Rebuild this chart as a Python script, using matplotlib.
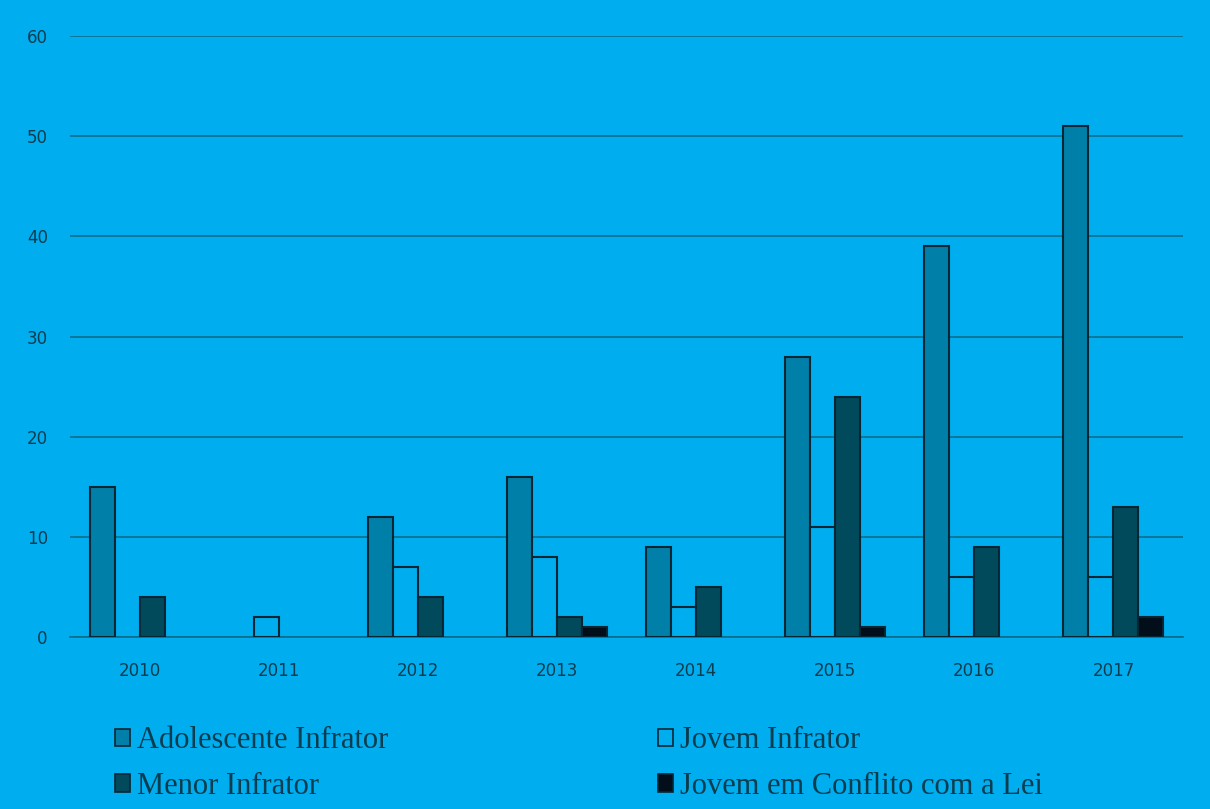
import numpy as np
import matplotlib.pyplot as plt
from matplotlib.patches import Patch

years = ['2010', '2011', '2012', '2013', '2014', '2015', '2016', '2017']
adolescente = [15, 0, 12, 16, 9, 28, 39, 51]
jovem = [0, 2, 7, 8, 3, 11, 6, 6]
menor = [4, 0, 4, 2, 5, 24, 9, 13]
conflito = [0, 0, 0, 1, 0, 1, 0, 2]

labels = ['Adolescente Infrator', 'Jovem Infrator', 'Menor Infrator',
          'Jovem em Conflito com a Lei']
bg = '#00ADEF'
colors = ['#0080A8', bg, '#004A5C', '#020F1A']
edge = '#062634'
text_col = '#083D50'
grid_col = '#0B6E8C'

fig = plt.figure(figsize=(12.1, 8.09), dpi=100, facecolor=bg)
ax = fig.add_axes([70 / 1210, 1 - 637 / 809, 1113 / 1210, 601 / 809])
ax.set_facecolor(bg)

x = np.arange(len(years))
w = 25 / 139
series = [adolescente, jovem, menor, conflito]
for i, vals in enumerate(series):
    vals = np.array(vals, dtype=float)
    mask = vals > 0
    ax.bar(x[mask] + (i - 1.5) * w, vals[mask], width=w, color=colors[i],
           edgecolor=edge, linewidth=1.5, zorder=3)

ax.set_xlim(-0.5, 7.5)
ax.set_ylim(0, 60)
ax.set_yticks(range(0, 61, 10))
ax.set_xticks(x)
ax.set_xticklabels(years)
ax.yaxis.grid(True, color=grid_col, linewidth=1.2, zorder=0)
ax.set_axisbelow(True)
for s in ['top', 'right', 'left']:
    ax.spines[s].set_visible(False)
ax.spines['bottom'].set_color(grid_col)
ax.spines['bottom'].set_linewidth(1.2)
ax.tick_params(axis='both', length=0, labelsize=12, labelcolor=text_col)
ax.tick_params(axis='y', pad=16)
ax.tick_params(axis='x', pad=18)
for t in ax.get_xticklabels() + ax.get_yticklabels():
    t.set_fontweight('medium')

# matplotlib fills legend columns first, so reorder to get row-wise layout
order = [0, 2, 1, 3]
handles = [Patch(facecolor=colors[k], edgecolor=edge, linewidth=1.2) for k in order]
leg = fig.legend(handles, [labels[k] for k in order], loc='lower left', ncol=2,
                 bbox_to_anchor=(87 / 1210, -0.024), frameon=False,
                 prop={'family': 'Liberation Serif', 'size': 22},
                 labelcolor=text_col, handlelength=0.5, handleheight=0.5,
                 handletextpad=0.25, columnspacing=8.8, labelspacing=0.55)

fig.savefig('out.png', dpi=100, facecolor=bg)
